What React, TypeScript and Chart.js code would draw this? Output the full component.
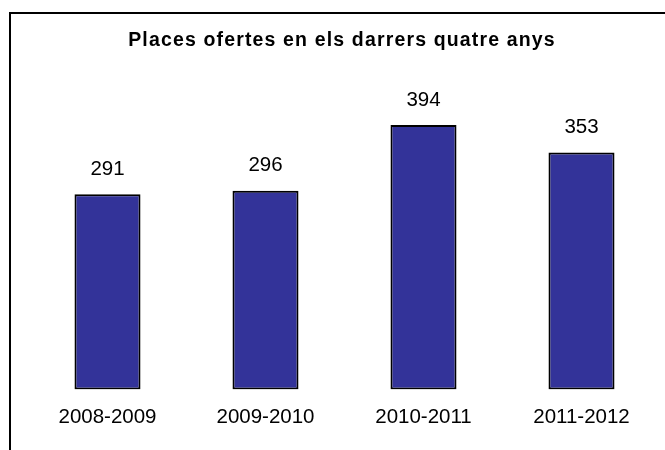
import React, { useEffect, useRef } from "react";
import { Chart, registerables } from "chart.js";

Chart.register(...registerables);

const chartTitle = "Places ofertes en els darrers quatre anys";
const categories = ["2008-2009", "2009-2010", "2010-2011", "2011-2012"];
const places = [291, 296, 394, 353];
const yMin = 0;
const yMax = 500;

const FONT = "Arial, 'Liberation Sans', Helvetica, sans-serif";

const decorPlugin = {
  id: "decor",
  afterDraw(chart: any) {
    const ctx = chart.ctx as CanvasRenderingContext2D;
    const w = chart.width;
    const h = chart.height;
    ctx.save();
    // frame (top and left edges of the outer box)
    ctx.fillStyle = "#000";
    ctx.fillRect(9, 12, w - 9, 2);
    ctx.fillRect(9, 12, 2, h - 12);
    // title
    ctx.font = `bold 19.5px ${FONT}`;
    (ctx as any).letterSpacing = "1.15px";
    ctx.textAlign = "center";
    ctx.textBaseline = "middle";
    ctx.fillStyle = "#000";
    ctx.fillText(chartTitle, 342, 40.5);
    (ctx as any).letterSpacing = "0px";
    // value labels
    ctx.font = `20.5px ${FONT}`;
    const meta = chart.getDatasetMeta(0);
    meta.data.forEach((bar: any, i: number) => {
      const v = chart.data.datasets[0].data[i];
      ctx.fillText(String(v), bar.x, bar.y - 25);
    });
    ctx.restore();
  },
};

export default function App() {
  const ref = useRef<HTMLCanvasElement>(null);
  useEffect(() => {
    if (!ref.current) return;
    const chart = new Chart(ref.current, {
      type: "bar",
      data: {
        labels: categories,
        datasets: [
          {
            data: places,
            backgroundColor: "#333399",
            borderColor: "#000000",
            borderWidth: 2,
            borderSkipped: false,
            barPercentage: 0.418,
            categoryPercentage: 1,
          },
        ],
      },
      options: {
        animation: false,
        responsive: true,
        maintainAspectRatio: false,
        layout: { padding: { left: 28.5, right: 4.5, top: 54, bottom: 4 } },
        plugins: {
          legend: { display: false },
          title: { display: false },
          tooltip: { enabled: false },
        },
        scales: {
          x: {
            grid: { display: false, drawTicks: false },
            border: { display: false },
            ticks: {
              color: "#000",
              font: { family: FONT, size: 20.5 },
              padding: 16,
              maxRotation: 0,
              autoSkip: false,
            },
          },
          y: {
            display: false,
            min: yMin,
            max: yMax,
          },
        },
      },
      plugins: [decorPlugin],
    });
    return () => chart.destroy();
  }, []);
  return (
    <div style={{ position: "absolute", left: 0, top: 0, width: 665, height: 450, background: "#fff" }}>
      <canvas ref={ref} />
    </div>
  );
}
